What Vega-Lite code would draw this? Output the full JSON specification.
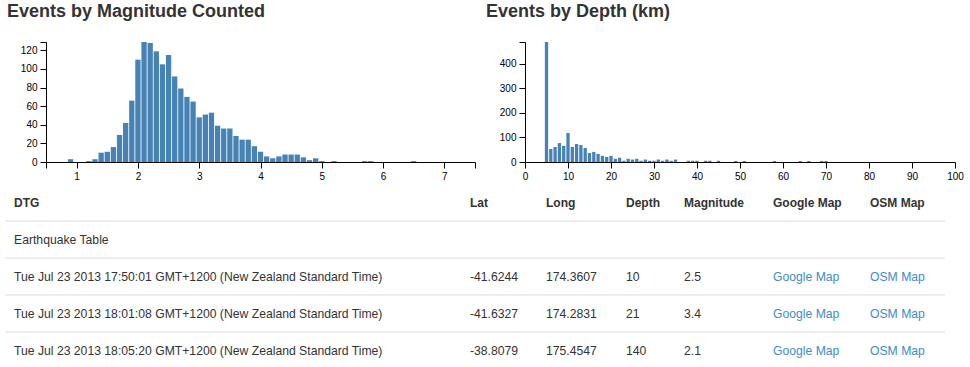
{
  "$schema": "https://vega.github.io/schema/vega-lite/v6.json",
  "autosize": {"type": "pad"},
  "padding": {"left": 4, "top": 3, "right": 4, "bottom": 0},
  "background": "#ffffff",
  "config": {
    "view": {"stroke": null},
    "axis": {"domainColor": "#000", "tickColor": "#000", "labelColor": "#000", "labelFont": "Liberation Sans", "labelFontSize": 10, "tickSize": 6, "labelPadding": 3, "grid": false, "labelFlush": false, "labelOverlap": false, "domainWidth": 1, "tickWidth": 1}
  },
  "datasets": {
    "mag": [
      {"mag": 0.9, "count": 3}, {"mag": 1.2, "count": 1}, {"mag": 1.3, "count": 3}, {"mag": 1.4, "count": 10},
      {"mag": 1.5, "count": 11}, {"mag": 1.6, "count": 16}, {"mag": 1.7, "count": 29}, {"mag": 1.8, "count": 42},
      {"mag": 1.9, "count": 66}, {"mag": 2.0, "count": 110}, {"mag": 2.1, "count": 129}, {"mag": 2.2, "count": 128},
      {"mag": 2.3, "count": 119}, {"mag": 2.4, "count": 105}, {"mag": 2.5, "count": 115}, {"mag": 2.6, "count": 92},
      {"mag": 2.7, "count": 79}, {"mag": 2.8, "count": 70}, {"mag": 2.9, "count": 65}, {"mag": 3.0, "count": 48},
      {"mag": 3.1, "count": 51}, {"mag": 3.2, "count": 53}, {"mag": 3.3, "count": 39}, {"mag": 3.4, "count": 36},
      {"mag": 3.5, "count": 36}, {"mag": 3.6, "count": 28}, {"mag": 3.7, "count": 24}, {"mag": 3.8, "count": 24},
      {"mag": 3.9, "count": 17}, {"mag": 4.0, "count": 11}, {"mag": 4.1, "count": 6}, {"mag": 4.2, "count": 4},
      {"mag": 4.3, "count": 6}, {"mag": 4.4, "count": 8}, {"mag": 4.5, "count": 8}, {"mag": 4.6, "count": 8},
      {"mag": 4.7, "count": 5}, {"mag": 4.8, "count": 2}, {"mag": 4.9, "count": 4}, {"mag": 5.0, "count": 1},
      {"mag": 5.2, "count": 1}, {"mag": 5.7, "count": 1}, {"mag": 5.8, "count": 1}, {"mag": 6.5, "count": 1}
    ],
    "depth": [
      {"depth": 5, "count": 488}, {"depth": 6, "count": 53}, {"depth": 7, "count": 61}, {"depth": 8, "count": 77},
      {"depth": 9, "count": 66}, {"depth": 10, "count": 118}, {"depth": 11, "count": 61}, {"depth": 12, "count": 73},
      {"depth": 13, "count": 69}, {"depth": 14, "count": 57}, {"depth": 15, "count": 37}, {"depth": 16, "count": 41},
      {"depth": 17, "count": 33}, {"depth": 18, "count": 25}, {"depth": 19, "count": 21}, {"depth": 20, "count": 25},
      {"depth": 21, "count": 13}, {"depth": 22, "count": 17}, {"depth": 23, "count": 5}, {"depth": 24, "count": 13},
      {"depth": 25, "count": 10}, {"depth": 26, "count": 13}, {"depth": 27, "count": 5}, {"depth": 28, "count": 10},
      {"depth": 29, "count": 5}, {"depth": 30, "count": 5}, {"depth": 31, "count": 10}, {"depth": 32, "count": 5},
      {"depth": 33, "count": 10}, {"depth": 34, "count": 5}, {"depth": 35, "count": 10}, {"depth": 38, "count": 5},
      {"depth": 39, "count": 5}, {"depth": 40, "count": 5}, {"depth": 42, "count": 5}, {"depth": 43, "count": 5},
      {"depth": 45, "count": 5}, {"depth": 49, "count": 4}, {"depth": 51, "count": 4}, {"depth": 58, "count": 4},
      {"depth": 64, "count": 4}, {"depth": 66, "count": 4}, {"depth": 69, "count": 4}, {"depth": 70, "count": 4}
    ],
    "rules": [{"row": "c"}, {"row": "r1"}, {"row": "r2"}, {"row": "r3"}],
    "table": [
      {"col": "DTG", "row": "h", "text": "DTG", "kind": "head"},
      {"col": "DTG", "row": "c", "text": "Earthquake Table", "kind": "body"},
      {"col": "DTG", "row": "r1", "text": "Tue Jul 23 2013 17:50:01 GMT+1200 (New Zealand Standard Time)", "kind": "body"},
      {"col": "DTG", "row": "r2", "text": "Tue Jul 23 2013 18:01:08 GMT+1200 (New Zealand Standard Time)", "kind": "body"},
      {"col": "DTG", "row": "r3", "text": "Tue Jul 23 2013 18:05:20 GMT+1200 (New Zealand Standard Time)", "kind": "body"},
      {"col": "Lat", "row": "h", "text": "Lat", "kind": "head"},
      {"col": "Lat", "row": "r1", "text": "-41.6244", "kind": "body"},
      {"col": "Lat", "row": "r2", "text": "-41.6327", "kind": "body"},
      {"col": "Lat", "row": "r3", "text": "-38.8079", "kind": "body"},
      {"col": "Long", "row": "h", "text": "Long", "kind": "head"},
      {"col": "Long", "row": "r1", "text": "174.3607", "kind": "body"},
      {"col": "Long", "row": "r2", "text": "174.2831", "kind": "body"},
      {"col": "Long", "row": "r3", "text": "175.4547", "kind": "body"},
      {"col": "Depth", "row": "h", "text": "Depth", "kind": "head"},
      {"col": "Depth", "row": "r1", "text": "10", "kind": "body"},
      {"col": "Depth", "row": "r2", "text": "21", "kind": "body"},
      {"col": "Depth", "row": "r3", "text": "140", "kind": "body"},
      {"col": "Magnitude", "row": "h", "text": "Magnitude", "kind": "head"},
      {"col": "Magnitude", "row": "r1", "text": "2.5", "kind": "body"},
      {"col": "Magnitude", "row": "r2", "text": "3.4", "kind": "body"},
      {"col": "Magnitude", "row": "r3", "text": "2.1", "kind": "body"},
      {"col": "Google", "row": "h", "text": "Google Map", "kind": "head"},
      {"col": "Google", "row": "r1", "text": "Google Map", "kind": "link"},
      {"col": "Google", "row": "r2", "text": "Google Map", "kind": "link"},
      {"col": "Google", "row": "r3", "text": "Google Map", "kind": "link"},
      {"col": "OSM", "row": "h", "text": "OSM Map", "kind": "head"},
      {"col": "OSM", "row": "r1", "text": "OSM Map", "kind": "link"},
      {"col": "OSM", "row": "r2", "text": "OSM Map", "kind": "link"},
      {"col": "OSM", "row": "r3", "text": "OSM Map", "kind": "link"}
    ]
  },
  "spacing": 3,
  "bounds": "full",
  "vconcat": [
    {
      "spacing": 50,
      "bounds": "flush",
      "hconcat": [
        {
          "width": 470, "height": 120,
          "title": {"text": "Events by Magnitude Counted", "anchor": "start", "frame": "group", "dx": 2, "offset": 16, "fontSize": 18, "font": "Liberation Sans", "fontWeight": "bold", "color": "#333"},
          "data": {"name": "mag"},
          "mark": {"type": "bar", "size": 5.3, "color": "#4682b4"},
          "encoding": {
            "x": {"field": "mag", "type": "quantitative", "scale": {"domain": [0.5, 7.5], "range": [41, 470], "padding": 0, "nice": false, "zero": false},
                  "axis": {"title": null, "values": [0.5, 1, 2, 3, 4, 5, 6, 7, 7.5], "labelExpr": "datum.value == 0.5 || datum.value == 7.5 ? '' : datum.label"}},
            "y": {"field": "count", "type": "quantitative", "scale": {"domain": [0, 129], "nice": false},
                  "axis": {"title": null, "offset": -41, "values": [0, 20, 40, 60, 80, 100, 120, 129], "labelExpr": "datum.value == 129 ? '' : datum.label"}}
          }
        },
        {
          "width": 430, "height": 120,
          "title": {"text": "Events by Depth (km)", "anchor": "start", "frame": "group", "dx": -39, "offset": 16, "fontSize": 18, "font": "Liberation Sans", "fontWeight": "bold", "color": "#333"},
          "data": {"name": "depth"},
          "mark": {"type": "bar", "size": 3.3, "color": "#4682b4"},
          "encoding": {
            "x": {"field": "depth", "type": "quantitative", "scale": {"domain": [0, 100], "padding": 0, "nice": false},
                  "axis": {"title": null, "values": [0, 10, 20, 30, 40, 50, 60, 70, 80, 90, 100]}},
            "y": {"field": "count", "type": "quantitative", "scale": {"domain": [0, 488], "nice": false},
                  "axis": {"title": null, "values": [0, 100, 200, 300, 400, 488], "labelExpr": "datum.value == 488 ? '' : datum.label"}}
          }
        }
      ]
    },
    {
      "spacing": 0,
      "bounds": "flush",
      "hconcat": [
        {"width": 456, "height": 185, "layer": [
          {"data": {"name": "rules"}, "mark": {"type": "rule", "color": "#dddddd", "strokeWidth": 1}, "encoding": {"y": {"field": "row", "type": "nominal", "bandPosition": 0, "scale": {"type": "band", "domain": ["h", "c", "r1", "r2", "r3"], "paddingInner": 0, "paddingOuter": 0}, "axis": null}}},
          {"data": {"name": "table"}, "transform": [{"filter": "datum.col === 'DTG' && datum.kind === 'head'"}], "mark": {"type": "text", "align": "left", "baseline": "middle", "dx": 9, "font": "Liberation Sans", "fontSize": 12, "fontWeight": "bold", "color": "#333"}, "encoding": {"x": {"datum": 0, "type": "quantitative", "scale": {"domain": [0, 1]}, "axis": null}, "y": {"field": "row", "type": "nominal", "axis": null}, "text": {"field": "text"}}},
          {"data": {"name": "table"}, "transform": [{"filter": "datum.col === 'DTG' && datum.kind !== 'head'"}], "mark": {"type": "text", "align": "left", "baseline": "middle", "dx": 9, "font": "Liberation Sans", "fontSize": 12.2}, "encoding": {"x": {"datum": 0, "type": "quantitative", "scale": {"domain": [0, 1]}, "axis": null}, "y": {"field": "row", "type": "nominal", "axis": null}, "text": {"field": "text"}, "color": {"field": "kind", "type": "nominal", "scale": {"domain": ["body", "link"], "range": ["#333333", "#428bca"]}, "legend": null}}}
        ]},
        {"width": 76, "height": 185, "layer": [
          {"data": {"name": "rules"}, "mark": {"type": "rule", "color": "#dddddd", "strokeWidth": 1}, "encoding": {"y": {"field": "row", "type": "nominal", "bandPosition": 0, "scale": {"type": "band", "domain": ["h", "c", "r1", "r2", "r3"], "paddingInner": 0, "paddingOuter": 0}, "axis": null}}},
          {"data": {"name": "table"}, "transform": [{"filter": "datum.col === 'Lat' && datum.kind === 'head'"}], "mark": {"type": "text", "align": "left", "baseline": "middle", "dx": 9, "font": "Liberation Sans", "fontSize": 12, "fontWeight": "bold", "color": "#333"}, "encoding": {"x": {"datum": 0, "type": "quantitative", "scale": {"domain": [0, 1]}, "axis": null}, "y": {"field": "row", "type": "nominal", "axis": null}, "text": {"field": "text"}}},
          {"data": {"name": "table"}, "transform": [{"filter": "datum.col === 'Lat' && datum.kind !== 'head'"}], "mark": {"type": "text", "align": "left", "baseline": "middle", "dx": 9, "font": "Liberation Sans", "fontSize": 12.2}, "encoding": {"x": {"datum": 0, "type": "quantitative", "scale": {"domain": [0, 1]}, "axis": null}, "y": {"field": "row", "type": "nominal", "axis": null}, "text": {"field": "text"}, "color": {"field": "kind", "type": "nominal", "scale": {"domain": ["body", "link"], "range": ["#333333", "#428bca"]}, "legend": null}}}
        ]},
        {"width": 80, "height": 185, "layer": [
          {"data": {"name": "rules"}, "mark": {"type": "rule", "color": "#dddddd", "strokeWidth": 1}, "encoding": {"y": {"field": "row", "type": "nominal", "bandPosition": 0, "scale": {"type": "band", "domain": ["h", "c", "r1", "r2", "r3"], "paddingInner": 0, "paddingOuter": 0}, "axis": null}}},
          {"data": {"name": "table"}, "transform": [{"filter": "datum.col === 'Long' && datum.kind === 'head'"}], "mark": {"type": "text", "align": "left", "baseline": "middle", "dx": 9, "font": "Liberation Sans", "fontSize": 12, "fontWeight": "bold", "color": "#333"}, "encoding": {"x": {"datum": 0, "type": "quantitative", "scale": {"domain": [0, 1]}, "axis": null}, "y": {"field": "row", "type": "nominal", "axis": null}, "text": {"field": "text"}}},
          {"data": {"name": "table"}, "transform": [{"filter": "datum.col === 'Long' && datum.kind !== 'head'"}], "mark": {"type": "text", "align": "left", "baseline": "middle", "dx": 9, "font": "Liberation Sans", "fontSize": 12.2}, "encoding": {"x": {"datum": 0, "type": "quantitative", "scale": {"domain": [0, 1]}, "axis": null}, "y": {"field": "row", "type": "nominal", "axis": null}, "text": {"field": "text"}, "color": {"field": "kind", "type": "nominal", "scale": {"domain": ["body", "link"], "range": ["#333333", "#428bca"]}, "legend": null}}}
        ]},
        {"width": 58, "height": 185, "layer": [
          {"data": {"name": "rules"}, "mark": {"type": "rule", "color": "#dddddd", "strokeWidth": 1}, "encoding": {"y": {"field": "row", "type": "nominal", "bandPosition": 0, "scale": {"type": "band", "domain": ["h", "c", "r1", "r2", "r3"], "paddingInner": 0, "paddingOuter": 0}, "axis": null}}},
          {"data": {"name": "table"}, "transform": [{"filter": "datum.col === 'Depth' && datum.kind === 'head'"}], "mark": {"type": "text", "align": "left", "baseline": "middle", "dx": 9, "font": "Liberation Sans", "fontSize": 12, "fontWeight": "bold", "color": "#333"}, "encoding": {"x": {"datum": 0, "type": "quantitative", "scale": {"domain": [0, 1]}, "axis": null}, "y": {"field": "row", "type": "nominal", "axis": null}, "text": {"field": "text"}}},
          {"data": {"name": "table"}, "transform": [{"filter": "datum.col === 'Depth' && datum.kind !== 'head'"}], "mark": {"type": "text", "align": "left", "baseline": "middle", "dx": 9, "font": "Liberation Sans", "fontSize": 12.2}, "encoding": {"x": {"datum": 0, "type": "quantitative", "scale": {"domain": [0, 1]}, "axis": null}, "y": {"field": "row", "type": "nominal", "axis": null}, "text": {"field": "text"}, "color": {"field": "kind", "type": "nominal", "scale": {"domain": ["body", "link"], "range": ["#333333", "#428bca"]}, "legend": null}}}
        ]},
        {"width": 89, "height": 185, "layer": [
          {"data": {"name": "rules"}, "mark": {"type": "rule", "color": "#dddddd", "strokeWidth": 1}, "encoding": {"y": {"field": "row", "type": "nominal", "bandPosition": 0, "scale": {"type": "band", "domain": ["h", "c", "r1", "r2", "r3"], "paddingInner": 0, "paddingOuter": 0}, "axis": null}}},
          {"data": {"name": "table"}, "transform": [{"filter": "datum.col === 'Magnitude' && datum.kind === 'head'"}], "mark": {"type": "text", "align": "left", "baseline": "middle", "dx": 9, "font": "Liberation Sans", "fontSize": 12, "fontWeight": "bold", "color": "#333"}, "encoding": {"x": {"datum": 0, "type": "quantitative", "scale": {"domain": [0, 1]}, "axis": null}, "y": {"field": "row", "type": "nominal", "axis": null}, "text": {"field": "text"}}},
          {"data": {"name": "table"}, "transform": [{"filter": "datum.col === 'Magnitude' && datum.kind !== 'head'"}], "mark": {"type": "text", "align": "left", "baseline": "middle", "dx": 9, "font": "Liberation Sans", "fontSize": 12.2}, "encoding": {"x": {"datum": 0, "type": "quantitative", "scale": {"domain": [0, 1]}, "axis": null}, "y": {"field": "row", "type": "nominal", "axis": null}, "text": {"field": "text"}, "color": {"field": "kind", "type": "nominal", "scale": {"domain": ["body", "link"], "range": ["#333333", "#428bca"]}, "legend": null}}}
        ]},
        {"width": 97, "height": 185, "layer": [
          {"data": {"name": "rules"}, "mark": {"type": "rule", "color": "#dddddd", "strokeWidth": 1}, "encoding": {"y": {"field": "row", "type": "nominal", "bandPosition": 0, "scale": {"type": "band", "domain": ["h", "c", "r1", "r2", "r3"], "paddingInner": 0, "paddingOuter": 0}, "axis": null}}},
          {"data": {"name": "table"}, "transform": [{"filter": "datum.col === 'Google' && datum.kind === 'head'"}], "mark": {"type": "text", "align": "left", "baseline": "middle", "dx": 9, "font": "Liberation Sans", "fontSize": 12, "fontWeight": "bold", "color": "#333"}, "encoding": {"x": {"datum": 0, "type": "quantitative", "scale": {"domain": [0, 1]}, "axis": null}, "y": {"field": "row", "type": "nominal", "axis": null}, "text": {"field": "text"}}},
          {"data": {"name": "table"}, "transform": [{"filter": "datum.col === 'Google' && datum.kind !== 'head'"}], "mark": {"type": "text", "align": "left", "baseline": "middle", "dx": 9, "font": "Liberation Sans", "fontSize": 12.2}, "encoding": {"x": {"datum": 0, "type": "quantitative", "scale": {"domain": [0, 1]}, "axis": null}, "y": {"field": "row", "type": "nominal", "axis": null}, "text": {"field": "text"}, "color": {"field": "kind", "type": "nominal", "scale": {"domain": ["body", "link"], "range": ["#333333", "#428bca"]}, "legend": null}}}
        ]},
        {"width": 84, "height": 185, "layer": [
          {"data": {"name": "rules"}, "mark": {"type": "rule", "color": "#dddddd", "strokeWidth": 1}, "encoding": {"y": {"field": "row", "type": "nominal", "bandPosition": 0, "scale": {"type": "band", "domain": ["h", "c", "r1", "r2", "r3"], "paddingInner": 0, "paddingOuter": 0}, "axis": null}}},
          {"data": {"name": "table"}, "transform": [{"filter": "datum.col === 'OSM' && datum.kind === 'head'"}], "mark": {"type": "text", "align": "left", "baseline": "middle", "dx": 9, "font": "Liberation Sans", "fontSize": 12, "fontWeight": "bold", "color": "#333"}, "encoding": {"x": {"datum": 0, "type": "quantitative", "scale": {"domain": [0, 1]}, "axis": null}, "y": {"field": "row", "type": "nominal", "axis": null}, "text": {"field": "text"}}},
          {"data": {"name": "table"}, "transform": [{"filter": "datum.col === 'OSM' && datum.kind !== 'head'"}], "mark": {"type": "text", "align": "left", "baseline": "middle", "dx": 9, "font": "Liberation Sans", "fontSize": 12.2}, "encoding": {"x": {"datum": 0, "type": "quantitative", "scale": {"domain": [0, 1]}, "axis": null}, "y": {"field": "row", "type": "nominal", "axis": null}, "text": {"field": "text"}, "color": {"field": "kind", "type": "nominal", "scale": {"domain": ["body", "link"], "range": ["#333333", "#428bca"]}, "legend": null}}}
        ]}
      ]
    }
  ]
}
